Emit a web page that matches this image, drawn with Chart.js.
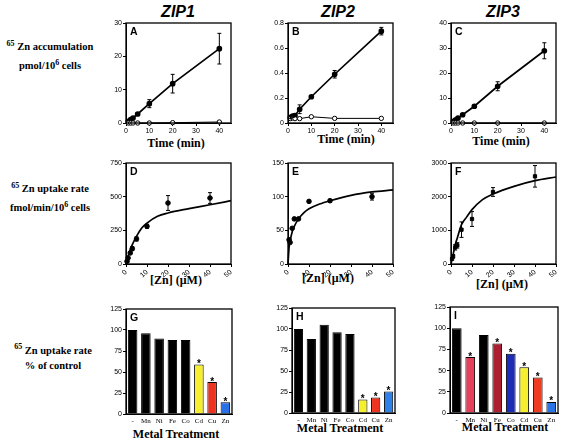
<!DOCTYPE html>
<html>
<head>
<meta charset="utf-8">
<script src="https://cdn.jsdelivr.net/npm/chart.js@4.4.1/dist/chart.umd.min.js"></script>
<style>
  body { margin: 0; background: #fff; width: 565px; height: 444px; position: relative; overflow: hidden; }
  canvas { position: absolute; }
  .t { position: absolute; white-space: nowrap; transform: translate(-50%, -50%); color: #000; }
  .zip { font: italic bold 16px "Liberation Sans", Arial, sans-serif; }
  .ax { font: bold 12px "Liberation Serif", "Times New Roman", serif; }
  .row { font: bold 10.5px "Liberation Serif", "Times New Roman", serif; text-align: center; line-height: 15px; }
  .row sup { font-size: 8px; }
</style>
</head>
<body>

<div class="t zip" style="left:178px;top:12px">ZIP1</div>
<div class="t zip" style="left:338px;top:12px">ZIP2</div>
<div class="t zip" style="left:503px;top:12px">ZIP3</div>

<div class="t row" style="left:50px;top:54px"><sup>65</sup> Zn accumulation<br>pmol/10<sup>6</sup> cells</div>
<div class="t row" style="left:50px;top:196px"><sup>65</sup> Zn uptake rate<br>fmol/min/10<sup>6</sup> cells</div>
<div class="t row" style="left:53px;top:356px"><sup>65</sup> Zn uptake rate<br>% of control</div>

<div class="t ax" style="left:176px;top:143px">Time (min)</div>
<div class="t ax" style="left:346px;top:139px">Time (min)</div>
<div class="t ax" style="left:501px;top:141px">Time (min)</div>
<div class="t ax" style="left:176px;top:280px">[Zn] (μM)</div>
<div class="t ax" style="left:328px;top:278px">[Zn] (μM)</div>
<div class="t ax" style="left:502px;top:284px">[Zn] (μM)</div>
<div class="t ax" style="left:176px;top:434px">Metal Treatment</div>
<div class="t ax" style="left:340px;top:428px">Metal Treatment</div>
<div class="t ax" style="left:505px;top:427px">Metal Treatment</div>

<canvas id="cA"></canvas><canvas id="cB"></canvas><canvas id="cC"></canvas>
<canvas id="cD"></canvas><canvas id="cE"></canvas><canvas id="cF"></canvas>
<canvas id="cG"></canvas><canvas id="cH"></canvas><canvas id="cI"></canvas>

<script>
// time course (panels A-C)
const timeMin = [1, 2, 3, 5, 10, 20, 40];
const zip1Uptake = [0.5, 1, 1.5, 2.7, 5.8, 11.8, 22.3];
const zip1UptakeErr = [0, 0, 0, 0.3, 1.2, 2.8, 4.6];
const zip1Control = [0, 0, 0, 0, 0, 0.1, 0.3];
const zip2Uptake = [0.045, 0.055, 0.06, 0.11, 0.21, 0.39, 0.735];
const zip2UptakeErr = [0.01, 0.01, 0.01, 0.035, 0.01, 0.03, 0.03];
const zip2Control = [0.035, 0.04, 0.035, 0.035, 0.05, 0.037, 0.037];
const zip3Uptake = [0.7, 1.3, 2, 3.3, 6.7, 14.7, 28.9];
const zip3UptakeErr = [0, 0, 0, 0.3, 0.4, 1.8, 3.2];
const zip3Control = [0, 0, 0, 0, 0, 0, 0];

// concentration dependence (panels D-F)
const znConc = [0.5, 1, 2, 3, 5, 10, 20, 40];
const zip1Rate = [20, 45, 82, 114, 186, 280, 453, 490];
const zip1RateErr = [0, 0, 10, 15, 15, 15, 55, 40];
const zip2Rate = [36, 32, 53, 67, 67, 93, 94, 100];
const zip2RateErr = [0, 0, 0, 0, 0, 0, 2, 5];
const zip3Rate = [150, 228, 495, 554, 1020, 1337, 2139, 2604];
const zip3RateErr = [0, 50, 80, 80, 230, 220, 130, 320];
// fitted curves
const fitConc = [0, 0.5, 1, 2, 3, 5, 7.5, 10, 15, 20, 30, 40, 50];
const zip1Fit = [0, 30, 57, 106, 144, 205, 267, 304, 354, 379, 411, 440, 470];
const zip2Fit = [0, 24, 34, 48, 56, 67, 76, 82, 89, 94, 102, 107, 110];
const zip3Fit = [0, 140, 277, 574, 772, 1168, 1400, 1614, 1911, 2079, 2307, 2475, 2584];

// metal competition (panels G-I)
const metals = ['-', 'Mn', 'Ni', 'Fe', 'Co', 'Cd', 'Cu', 'Zn'];
const zip1Pct = [100, 96, 90, 88, 88, 59, 38, 14];
const zip2Pct = [100, 88, 105, 96, 94, 16, 18.5, 25.5];
const zip3Pct = [100, 66, 92, 82, 70, 54, 42, 13];
const zip1Sig = [0, 0, 0, 0, 0, 1, 1, 1];
const zip2Sig = [0, 0, 0, 0, 0, 1, 1, 1];
const zip3Sig = [0, 1, 0, 1, 1, 1, 1, 1];
const zip1Colors = ['#000', '#000', '#000', '#000', '#000', '#f6ef2e', '#ee3420', '#2a70e6'];
const zip2Colors = ['#000', '#000', '#000', '#000', '#000', '#f6ef2e', '#ee3420', '#3080ea'];
const zip3Colors = ['#000', '#e6405a', '#000', '#ad1f30', '#1c2cb6', '#f6ef2e', '#ef3c20', '#2b74e6'];

Chart.defaults.font.family = '"Liberation Sans", Arial, sans-serif';
Chart.defaults.font.size = 7;
Chart.defaults.color = '#000';

// margins of each canvas around its plot box
const ML = 32, MT = 10, MR = 12, MB = 20;

const framePlugin = {
  id: 'frame',
  afterDraw(chart) {
    const a = chart.chartArea, ctx = chart.ctx;
    ctx.save();
    ctx.strokeStyle = '#000';
    ctx.lineWidth = 1.3;
    ctx.strokeRect(a.left, a.top, a.right - a.left, a.bottom - a.top);
    ctx.font = 'bold 10.5px "Liberation Sans", Arial, sans-serif';
    ctx.fillStyle = '#000';
    ctx.textBaseline = 'top';
    ctx.fillText(chart.options.plugins.frame.letter, a.left + 4, a.top + 4);
    ctx.restore();
  }
};

const errorBarPlugin = {
  id: 'errbars',
  afterDatasetsDraw(chart) {
    const ctx = chart.ctx, ys = chart.scales.y;
    chart.data.datasets.forEach((ds, di) => {
      if (!ds.errors) return;
      const meta = chart.getDatasetMeta(di);
      meta.data.forEach((pt, i) => {
        const e = ds.errors[i];
        if (!e) return;
        const v = ds.data[i].y;
        const y1 = ys.getPixelForValue(v + e), y2 = ys.getPixelForValue(v - e);
        ctx.save();
        ctx.strokeStyle = '#000';
        ctx.lineWidth = 1;
        ctx.beginPath();
        ctx.moveTo(pt.x, y1); ctx.lineTo(pt.x, y2);
        ctx.moveTo(pt.x - 2, y1); ctx.lineTo(pt.x + 2, y1);
        ctx.moveTo(pt.x - 2, y2); ctx.lineTo(pt.x + 2, y2);
        ctx.stroke();
        ctx.restore();
      });
    });
  }
};

const starPlugin = {
  id: 'stars',
  afterDatasetsDraw(chart) {
    const ctx = chart.ctx;
    chart.data.datasets.forEach((ds, di) => {
      if (!ds.stars) return;
      chart.getDatasetMeta(di).data.forEach((bar, i) => {
        if (!ds.stars[i]) return;
        ctx.save();
        ctx.font = 'bold 10px "Liberation Sans", Arial, sans-serif';
        ctx.textAlign = 'center';
        ctx.textBaseline = 'alphabetic';
        ctx.fillStyle = '#000';
        ctx.fillText('*', bar.x, bar.y + 2.5);
        ctx.restore();
      });
    });
  }
};

function linAxis(min, max, step, labelEvery, fitKey, fitSize) {
  return {
    type: 'linear', min, max,
    ticks: {
      stepSize: step, includeBounds: false, padding: 1, font: { size: 7 }, color: '#000',
      callback: v => (Math.abs(v / labelEvery - Math.round(v / labelEvery)) < 1e-6 ? String(+v.toFixed(2)) : '')
    },
    grid: { display: true, drawOnChartArea: false, drawTicks: true, tickLength: 3, color: '#000', lineWidth: 1 },
    border: { display: true, color: '#000', width: 1 },
    afterFit: s => { s[fitKey] = fitSize; }
  };
}

function xy(xs, ys) { return xs.map((x, i) => ({ x, y: ys[i] })); }

// build a chart so that its plot area lands exactly on box = [left, top, right, bottom]
function makeChart(id, box, config) {
  const [l, t, r, b] = box;
  const c = document.getElementById(id);
  c.width = r - l + ML + MR;
  c.height = b - t + MT + MB;
  c.style.left = (l - ML) + 'px';
  c.style.top = (t - MT) + 'px';
  c.style.width = c.width + 'px';
  c.style.height = c.height + 'px';
  config.options.responsive = false;
  config.options.maintainAspectRatio = false;
  config.options.animation = false;
  config.options.layout = { padding: { left: 4, top: MT, right: MR, bottom: 0 } };
  const ch = new Chart(c, config);
  for (let k = 0; k < 3; k++) {
    const a = ch.chartArea, p = ch.options.layout.padding;
    const dl = ML - a.left, dt = MT - a.top;
    const dr = a.right - (ML + r - l), db = a.bottom - (MT + b - t);
    if (!dl && !dt && !dr && !db) break;
    ch.options.layout.padding = { left: p.left + dl, top: p.top + dt, right: p.right + dr, bottom: p.bottom + db };
    ch.update('none');
  }
  return ch;
}

function timeChart(id, box, letter, up, err, ctl, ymax, ystep) {
  makeChart(id, box, {
    type: 'scatter',
    data: {
      datasets: [
        { data: xy(timeMin, ctl), showLine: true, borderColor: '#000', borderWidth: 1,
          pointRadius: 2.2, pointBackgroundColor: '#fff', pointBorderColor: '#000', pointBorderWidth: 1 },
        { data: xy(timeMin, up), errors: err, showLine: true, borderColor: '#000', borderWidth: 1.7,
          pointRadius: 2, pointBackgroundColor: '#000', pointBorderColor: '#000' }
      ]
    },
    options: {
      clip: false,
      plugins: { legend: { display: false }, tooltip: { enabled: false }, frame: { letter } },
      scales: {
        x: linAxis(0, 45, 10, 10, 'height', 14),
        y: linAxis(0, ymax, ystep, ystep, 'width', 26)
      }
    },
    plugins: [framePlugin, errorBarPlugin]
  });
}

function concChart(id, box, letter, rate, err, fit, ymax, ystep, style) {
  makeChart(id, box, {
    type: 'scatter',
    data: {
      datasets: [
        { data: xy(fitConc, fit), showLine: true, cubicInterpolationMode: 'monotone',
          borderColor: '#000', borderWidth: 1.7, pointRadius: 0 },
        { data: xy(znConc, rate), errors: err, showLine: false, pointStyle: style,
          pointRadius: 2.3, pointBackgroundColor: '#000', pointBorderColor: '#000' }
      ]
    },
    options: {
      clip: false,
      plugins: { legend: { display: false }, tooltip: { enabled: false }, frame: { letter } },
      scales: {
        x: linAxis(0, 50, 5, 10, 'height', 14),
        y: linAxis(0, ymax, ystep, ystep, 'width', 26)
      }
    },
    plugins: [framePlugin, errorBarPlugin]
  });
}

function barChart(id, box, letter, pct, sig, colors) {
  makeChart(id, box, {
    type: 'bar',
    data: {
      labels: metals,
      datasets: [{ data: pct, stars: sig, backgroundColor: colors, borderColor: '#000', borderWidth: 1,
        barPercentage: 0.72, categoryPercentage: 1 }]
    },
    options: {
      plugins: { legend: { display: false }, tooltip: { enabled: false }, frame: { letter } },
      scales: {
        x: {
          ticks: { padding: 3, font: { size: 7, family: '"Liberation Serif", "Times New Roman", serif' }, color: '#000', maxRotation: 0, autoSkip: false },
          grid: { display: false, drawTicks: false },
          border: { display: true, color: '#000', width: 1 },
          afterFit: s => { s.height = 14; }
        },
        y: linAxis(0, 125, 25, 25, 'width', 26)
      }
    },
    plugins: [framePlugin, starPlugin]
  });
}

timeChart('cA', [126, 23, 231, 123], 'A', zip1Uptake, zip1UptakeErr, zip1Control, 30, 10);
timeChart('cB', [288, 23, 393, 123], 'B', zip2Uptake, zip2UptakeErr, zip2Control, 0.8, 0.2);
timeChart('cC', [451, 23, 556, 123], 'C', zip3Uptake, zip3UptakeErr, zip3Control, 40, 10);

concChart('cD', [126, 163, 231, 264], 'D', zip1Rate, zip1RateErr, zip1Fit, 750, 250, 'circle');
concChart('cE', [288, 163, 393, 264], 'E', zip2Rate, zip2RateErr, zip2Fit, 150, 50, 'circle');
concChart('cF', [451, 163, 556, 264], 'F', zip3Rate, zip3RateErr, zip3Fit, 3000, 1000, 'rect');

barChart('cG', [126, 309, 232, 414], 'G', zip1Pct, zip1Sig, zip1Colors);
barChart('cH', [292, 308, 395, 413], 'H', zip2Pct, zip2Sig, zip2Colors);
barChart('cI', [450, 307, 558, 413], 'I', zip3Pct, zip3Sig, zip3Colors);
</script>
</body>
</html>
